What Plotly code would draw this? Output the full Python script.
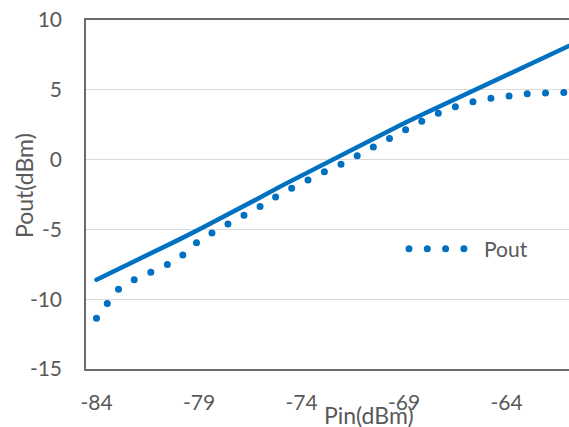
import plotly.graph_objects as go

# ---- data ----
pin = [-84, -83, -82, -81, -80, -79, -78, -77, -76, -75, -74, -73, -72,
       -71, -70, -69, -68, -67, -66, -65, -64, -63, -62, -61, -60]
pout = [-11.37, -9.35, -8.47, -7.86, -7.1, -5.8, -4.95, -4.19, -3.35, -2.44,
        -1.64, -0.95, -0.28, 0.51, 1.35, 2.08, 2.86, 3.53, 4.02, 4.34,
        4.53, 4.72, 4.77, 4.82, 4.85]
linear = [-8.6, -7.9, -7.2, -6.45, -5.75, -5.0, -4.25, -3.5, -2.7, -1.9,
          -1.15, -0.35, 0.4, 1.15, 1.9, 2.6, 3.3, 4.0, 4.7, 5.4,
          6.1, 6.8, 7.45, 8.15, 8.8]
x_tickvals = [-84, -79, -74, -69, -64]
x_ticktext = ["-84", "-79", "-74", "-69", "-64"]
y_tickvals = [-15, -10, -5, 0, 5, 10]
y_ticktext = ["-15", "-10", "-5", "0", "5", "10"]

BLUE = "#0070C0"
GRAY = "#595959"
FONT = "Lato"

W, H = 569, 427
L, R, T, B = 86, 0, 20, 58
pw, ph = W - L - R, H - T - B
px_per_unit = 20.5
x0 = -84 - 10.5 / px_per_unit
x1 = x0 + pw / px_per_unit


def xp(px):
    return (px - L) / pw


def yp(py):
    return (H - B - py) / ph


fig = go.Figure()
fig.add_trace(go.Scatter(x=pin, y=linear, mode="lines", showlegend=False,
                         line=dict(color=BLUE, width=4.5)))
fig.add_trace(go.Scatter(x=pin, y=pout, mode="lines", name="Pout",
                         line=dict(color=BLUE, width=7, dash="0px,18.3px")))

fig.update_layout(
    width=W, height=H,
    margin=dict(l=L, r=R, t=T, b=B),
    paper_bgcolor="white", plot_bgcolor="white",
    font=dict(family=FONT, size=21, color=GRAY),
    xaxis=dict(range=[x0, x1], tickvals=x_tickvals, ticktext=x_ticktext,
               showgrid=False, zeroline=False, showline=True, mirror=True,
               linecolor="#6b6b6b", linewidth=1.5, ticks="",
               ticklabelstandoff=14),
    yaxis=dict(range=[-15, 10], tickvals=y_tickvals, ticktext=y_ticktext,
               showgrid=True, gridcolor="#d9d9d9", gridwidth=1,
               zeroline=False, showline=True, mirror=False,
               linecolor="#6b6b6b", linewidth=1.5, ticks="",
               ticklabelstandoff=18),
    showlegend=True,
    legend=dict(x=xp(404), y=yp(249), xanchor="left", yanchor="middle",
                bgcolor="rgba(0,0,0,0)", font=dict(family=FONT, size=21, color=GRAY),
                itemwidth=70),
    annotations=[
        dict(text="Pin(dBm)", x=xp(369), y=yp(415), xref="paper", yref="paper",
             showarrow=False, xanchor="center", yanchor="middle",
             font=dict(family=FONT, size=23, color=GRAY)),
        dict(text="Pout(dBm)", x=xp(24), y=yp(185), xref="paper", yref="paper",
             showarrow=False, xanchor="center", yanchor="middle", textangle=-90,
             font=dict(family=FONT, size=23, color=GRAY)),
    ],
)

post = (
    "document.body.style.margin='0';"
    "var s=document.createElement('style');"
    "s.textContent='.js-line'+String.fromCharCode(123)+'stroke-linecap:round;'+String.fromCharCode(125);"
    "document.head.appendChild(s);"
)
fig.write_html("out.html", post_script=post, config={"displayModeBar": False})
